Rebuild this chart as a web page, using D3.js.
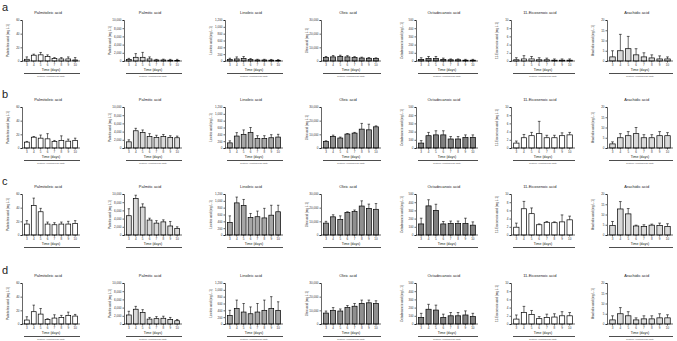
<!DOCTYPE html>
<html><head><meta charset="utf-8">
<script src="https://cdn.jsdelivr.net/npm/d3@7"></script>
<style>html,body{margin:0;padding:0;background:#fff}svg{display:block;font-family:"Liberation Sans",Arial,sans-serif}</style>
</head><body><svg id="c" width="677" height="341"></svg>
<script>
const days = [3,4,5,6,7,8,9,10];
const acids = ["Palmitoleic acid","Palmitic acid","Linoleic acid","Oleic acid","Octadecanoic acid","11-Eicosenoic acid","Arachidic acid"];
const yLabels = ["Palmitoleic acid (mg L-1)","Palmitic acid (mg L-1)","Linoleic acid (mg L-1)","Oleic acid (mg L-1)","Octadecanoic acid (mg L-1)","11-Eicosenoic acid (mg L-1)","Arachidic acid (mg L-1)"];
const yMax = [60,10000,1200,30000,500,10,20];
const yStep = [20,2000,200,10000,100,2,5];
const fills = ["#ffffff","#d9d9d9","#a6a6a6","#8f8f8f","#7f7f7f","#ffffff","#d9d9d9"];
const rowLetters = ["a","b","c","d"];
const subCaptions = ["Culture (continuous light)","Culture (continuous light)","","Culture (continuous light)"];

const meansA = [
 [2.5,8.5,9,6.5,3.5,3,3,1.5],
 [400,900,900,500,250,250,200,100],
 [40,60,70,40,30,30,25,20],
 [2500,3000,3200,3000,2500,2200,2000,1800],
 [20,30,30,20,15,15,10,10],
 [0.3,0.5,0.5,0.3,0.3,0.2,0.2,0.2],
 [2,5,6,3,2,1.5,1,1]];
const errsA = [
 [3.5,1.5,3.5,2.5,1.5,2,3,3.5],
 [240,900,1200,500,150,200,200,300],
 [40,60,60,30,20,20,20,20],
 [800,1000,1000,900,700,600,500,500],
 [20,25,25,15,10,10,10,10],
 [0.5,0.8,0.6,0.5,0.4,0.3,0.3,0.3],
 [3,8,6,3,2,1.5,1.5,1]];
const meansB = [
 [8.6,15.8,14.4,13.4,9.6,11,10,11],
 [1500,4200,3800,2800,2600,2800,2600,2500],
 [150,350,400,450,280,280,300,320],
 [4800,8500,7300,10200,10900,13800,13300,15500],
 [60,150,160,160,110,110,130,130],
 [1.2,2.5,3,3.5,2.5,2.5,3,3.2],
 [2,5,6,7,5,5,6,6]];
const errsB = [
 [1,1,4.6,7.6,1.4,6.8,3,3.4],
 [500,600,600,700,500,500,400,400],
 [60,100,130,150,80,80,90,80],
 [500,900,700,400,500,4200,4100,700],
 [30,40,50,50,30,30,30,30],
 [0.5,0.8,0.8,3,0.6,0.6,0.7,0.6],
 [1,2,2,3,1.5,1.5,2,1.5]];
const meansC = [
 [16,43,34,16,15,16,16,17],
 [4700,8900,6800,3650,2900,3200,2200,1600],
 [370,940,860,510,535,500,580,680],
 [8700,13300,11400,16500,17100,21200,19500,18800],
 [135,355,300,135,140,140,140,120],
 [1.9,6.4,5.2,2.5,3.1,3.0,3.2,3.7],
 [4.6,12.7,10.3,4.4,4.2,4.8,4.7,4.2]];
const errsC = [
 [5,11,5,3,3,3,4,4],
 [1700,800,800,450,600,500,1100,400],
 [190,170,180,120,165,280,290,190],
 [1300,1500,2600,500,1200,3800,3100,4200],
 [70,75,75,30,30,30,65,40],
 [1.0,1.8,1.4,0.2,0.2,0.2,1.7,0.9],
 [2.0,3.6,2.6,0.4,0.8,0.5,1.1,1.3]];
const meansD = [
 [5.8,18,14.5,6.8,8.7,9.7,12.6,11.6],
 [2200,3600,2800,1200,1300,1400,1100,800],
 [250,450,350,300,350,400,450,400],
 [8000,10000,9500,12000,13000,15000,15500,15000],
 [80,180,170,80,100,100,110,90],
 [1.2,2.8,2.3,1.3,1.6,1.7,2,2],
 [2,5,4,2,2.5,2.5,3,3]];
const errsD = [
 [4.8,9.6,8.2,0.9,4.8,2.9,4.8,2.4],
 [900,700,700,400,500,500,500,300],
 [150,250,250,200,250,300,350,250],
 [1500,2000,1500,1500,2000,2500,2000,2000],
 [50,60,60,40,40,40,50,40],
 [1,1.5,1,0.5,0.8,0.8,1,0.8],
 [2,3,2,1,1.5,1.5,2,1.5]];
const allMeans = [meansA,meansB,meansC,meansD];
const allErrs = [errsA,errsB,errsC,errsD];

const colX = [22,124,225,321,416,511,607];
const colW = [58,58,58,60,62,64,66];
const rowTop = [20,107,194,283];
const plotH = 41;

const svg = d3.select("#c");
rowLetters.forEach((L,r)=>{
  svg.append("text").attr("x",2).attr("y",rowTop[r]-9).attr("font-size",11).attr("fill","#222").text(L);
  acids.forEach((acid,c)=>{
    const g = svg.append("g").attr("transform",`translate(${colX[c]},${rowTop[r]})`);
    const x = d3.scaleBand().domain(days).range([0,colW[c]]).paddingInner(0.3).paddingOuter(0.35);
    const y = d3.scaleLinear().domain([0,yMax[c]]).range([plotH,0]);
    const means = allMeans[r][c], errs = allErrs[r][c];
    const data = days.map((d,i)=>({d,m:means[i],e:errs[i]}));
    const eb = g.selectAll(".eb").data(data).enter().append("g");
    eb.append("line").attr("x1",d=>x(d.d)+x.bandwidth()/2).attr("x2",d=>x(d.d)+x.bandwidth()/2)
      .attr("y1",d=>y(d.m)).attr("y2",d=>y(d.m+d.e)).attr("stroke","#000").attr("stroke-width",0.6);
    eb.append("line").attr("x1",d=>x(d.d)+x.bandwidth()*0.25).attr("x2",d=>x(d.d)+x.bandwidth()*0.75)
      .attr("y1",d=>y(d.m+d.e)).attr("y2",d=>y(d.m+d.e)).attr("stroke","#000").attr("stroke-width",0.6);
    g.selectAll(".bar").data(data).enter().append("rect")
      .attr("x",d=>x(d.d)).attr("width",x.bandwidth())
      .attr("y",d=>y(d.m)).attr("height",d=>plotH-y(d.m))
      .attr("fill",fills[c]).attr("stroke","#000").attr("stroke-width",0.7);
    const ya = d3.axisLeft(y).tickValues(d3.range(0,yMax[c]+yStep[c]/2,yStep[c])).tickSize(1.5).tickPadding(1);
    const yg = g.append("g").call(ya);
    yg.selectAll("text").attr("font-size",3).attr("fill","#333");
    yg.selectAll("line,path").attr("stroke","#000").attr("stroke-width",0.6);
    const xa = d3.axisBottom(x).tickSize(1.5).tickPadding(1);
    const xg = g.append("g").attr("transform",`translate(0,${plotH})`).call(xa);
    xg.select("path").attr("d",`M0,0H${colW[c]}`);
    xg.selectAll("text").attr("font-size",3).attr("fill","#333");
    xg.selectAll("line,path").attr("stroke","#000").attr("stroke-width",0.6);
    g.append("text").attr("x",colW[c]*0.45).attr("y",-6).attr("text-anchor","middle").attr("font-size",4).attr("fill","#222").text(acid);
    g.append("text").attr("transform",`translate(-13,${plotH/2}) rotate(-90)`).attr("text-anchor","middle").attr("font-size",3).attr("fill","#333").text(yLabels[c]);
    g.append("text").attr("x",colW[c]/2).attr("y",plotH+10).attr("text-anchor","middle").attr("font-size",3.5).attr("fill","#222").text("Time (days)");
    g.append("line").attr("x1",2).attr("x2",colW[c]).attr("y1",plotH+12.5).attr("y2",plotH+12.5).attr("stroke","#000").attr("stroke-width",0.7);
    if (subCaptions[r]) g.append("text").attr("x",colW[c]/2).attr("y",plotH+15.5).attr("text-anchor","middle").attr("font-size",2.5).attr("fill","#555").text(subCaptions[r]);
  });
});
</script></body></html>
